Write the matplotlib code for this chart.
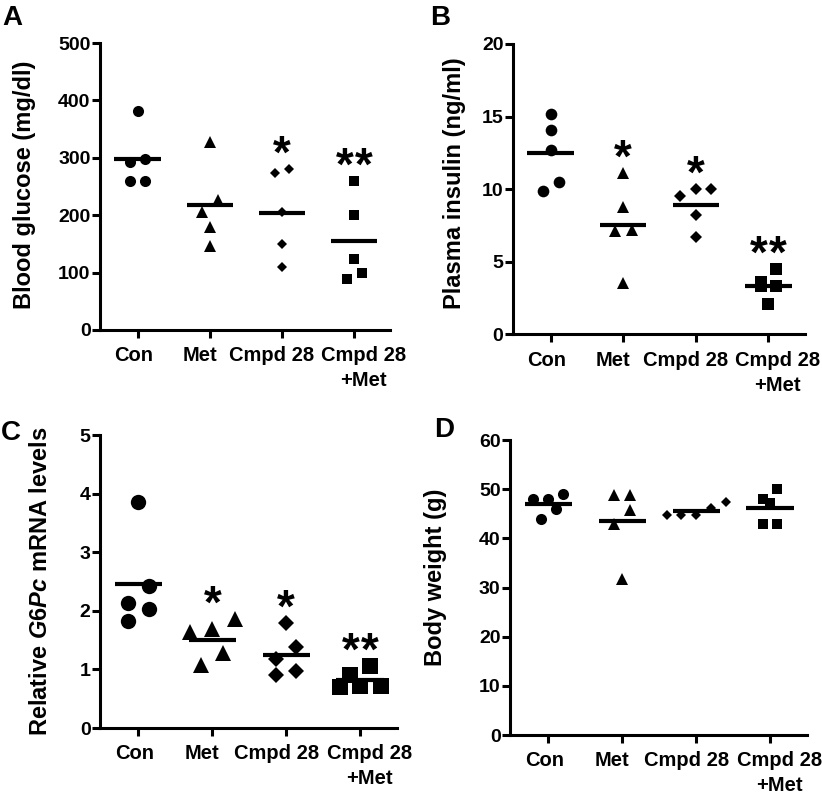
import numpy as np
import matplotlib
matplotlib.use('Agg')
import matplotlib.pyplot as plt
from matplotlib.transforms import ScaledTranslation

plt.rcParams['font.family'] = 'Liberation Sans'
plt.rcParams['font.weight'] = 'bold'
plt.rcParams['mathtext.fontset'] = 'custom'
plt.rcParams['mathtext.it'] = 'Liberation Sans:italic:bold'
plt.rcParams['mathtext.rm'] = 'Liberation Sans:bold'

groups = ['Con', 'Met', 'Cmpd 28', 'Cmpd 28\n+Met']

# blood glucose (mg/dl), 5 mice per group
glucose_con = [381, 298, 292, 260, 260]
glucose_met = [327, 226, 206, 179, 147]
glucose_cmpd = [281, 273, 205, 149, 109]
glucose_combo = [260, 201, 124, 99, 89]
glucose_stars = ['', '', '*', '**']

# plasma insulin (ng/ml)
insulin_con = [15.2, 14.1, 12.7, 10.5, 9.9]
insulin_met = [11.1, 8.8, 7.2, 7.1, 3.5]
insulin_cmpd = [10.0, 10.0, 9.5, 8.2, 6.7]
insulin_combo = [4.5, 3.6, 3.3, 3.3, 2.1]
insulin_stars = ['', '*', '*', '**']

# relative G6Pc mRNA
g6pc_con = [3.85, 2.43, 2.13, 2.03, 1.82]
g6pc_met = [1.86, 1.69, 1.64, 1.28, 1.07]
g6pc_cmpd = [1.79, 1.39, 1.18, 0.97, 0.91]
g6pc_combo = [1.06, 0.91, 0.72, 0.71, 0.70]
g6pc_stars = ['', '*', '*', '**']

# body weight (g)
weight_con = [49.0, 48.1, 48.0, 45.9, 43.9]
weight_met = [48.8, 48.8, 45.8, 42.9, 31.7]
weight_cmpd = [47.3, 46.1, 44.7, 44.7, 44.7]
weight_combo = [50.0, 48.0, 47.1, 42.9, 42.9]
weight_stars = ['', '', '', '']

markers = ['o', '^', 'D', 's']
base_size = {'o': 8.0, '^': 8.6, 'D': 5.6, 's': 7.9}
label_shift_px = [-4, -10, -10, 9]   # prism nudges the crowded group names apart
STAR_FS = 33


def swarm(ax, x0, vals, diam_px):
    # prism-like scatter: points close in y go side by side in a row
    pts = np.column_stack([np.full(len(vals), x0), vals])
    ys = ax.transData.transform(pts)[:, 1]
    px_per_x = ax.transData.transform([(1, 0)])[0, 0] - ax.transData.transform([(0, 0)])[0, 0]
    rows = []
    for i in np.argsort(-ys):
        if rows and ys[rows[-1][0]] - ys[i] < 1.2 * diam_px:
            rows[-1].append(i)
        else:
            rows.append([i])
    xs = np.full(len(vals), float(x0))
    for row in rows:
        row = sorted(row, key=lambda k: ys[k])
        n = len(row)
        for j, k in enumerate(row):
            xs[k] = x0 + (j - (n - 1) / 2) * 1.35 * diam_px / px_per_x
    return xs


fig = plt.figure(figsize=(8.22, 7.94), dpi=100)

panels = [
    ([0.1217, 0.5844, 0.353, 0.3614], 'Blood glucose (mg/dl)', (0, 500), np.arange(0, 501, 100),
     [glucose_con, glucose_met, glucose_cmpd, glucose_combo], glucose_stars, 1.0, (-0.26, 0.505)),
    ([0.624, 0.579, 0.355, 0.3656], 'Plasma insulin (ng/ml)', (0, 20), np.arange(0, 21, 5),
     [insulin_con, insulin_met, insulin_cmpd, insulin_combo], insulin_stars, 1.05, (-0.199, 0.52)),
    ([0.1217, 0.0831, 0.3613, 0.369], r'Relative $\mathit{G6Pc}$ mRNA levels', (0, 5), np.arange(0, 6, 1),
     [g6pc_con, g6pc_met, g6pc_cmpd, g6pc_combo], g6pc_stars, 1.38, (-0.199, 0.50)),
    ([0.6204, 0.0743, 0.3614, 0.3715], 'Body weight (g)', (0, 60), np.arange(0, 61, 10),
     [weight_con, weight_met, weight_cmpd, weight_combo], weight_stars, 1.0, (-0.249, 0.535)),
]

for rect, ylabel, ylim, yticks, data, stars, scale, lab in panels:
    ax = fig.add_axes(rect)
    ax.set_xlim(-0.52, 3.5)
    ax.set_ylim(*ylim)
    for side in ['top', 'right']:
        ax.spines[side].set_visible(False)
    for side in ['left', 'bottom']:
        ax.spines[side].set_linewidth(2.2)
    ax.tick_params(width=2.2, length=5.8, labelsize=14, pad=1)
    ax.tick_params(axis='x', labelsize=14.5, pad=6)
    ax.set_xticks(range(len(groups)))
    ax.set_xticklabels(groups, fontweight='bold', linespacing=1.4)
    for lbl, dx in zip(ax.get_xticklabels(), label_shift_px):
        lbl.set_transform(lbl.get_transform() + ScaledTranslation(dx / 100, 0, fig.dpi_scale_trans))
    ax.set_yticks(yticks)
    ax.set_ylabel(ylabel, fontsize=17, fontweight='bold', va='center')
    ax.yaxis.set_label_coords(*lab)

    for i, vals in enumerate(data):
        m = markers[i]
        ms = base_size[m] * scale
        diam = ms * 1.389 * (1.41 if m == 'D' else 1.0)
        xs = swarm(ax, i, vals, diam)
        ax.plot(xs, vals, m, color='black', markersize=ms, markeredgewidth=0,
                clip_on=False, zorder=3)
        ax.plot([i - 0.32, i + 0.32], [np.mean(vals)] * 2, color='black',
                lw=3.0, solid_capstyle='butt', zorder=4)
        n = len(stars[i])
        for j in range(n):
            ax.annotate('*', xy=(i, max(vals)),
                        xytext=((j - (n - 1) / 2) * 14, 20 - 0.58 * STAR_FS),
                        textcoords='offset points', ha='center', va='baseline',
                        fontsize=STAR_FS, fontweight='bold')

for letter, x, y in [('A', 12, 25), ('B', 440, 25), ('C', 11, 440), ('D', 444, 437)]:
    fig.text(x / 822, 1 - y / 794, letter, fontsize=20, fontweight='bold',
             ha='center', va='baseline')

fig.savefig('out.png', dpi=100)
